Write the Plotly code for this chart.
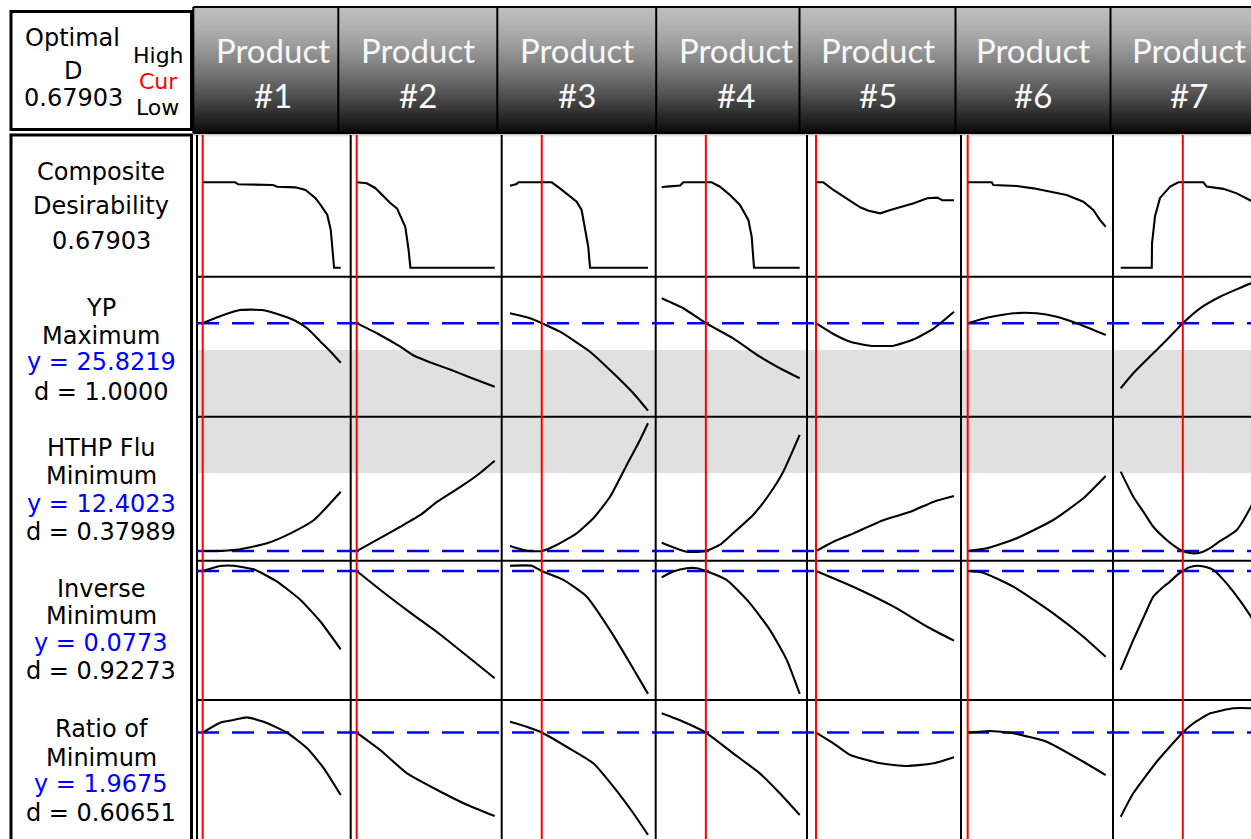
import plotly.graph_objects as go

W, H = 1251, 839

# ---- factor columns -------------------------------------------------------
PRODUCTS = ["#1", "#2", "#3", "#4", "#5", "#6", "#7"]
# current (optimal) setting of each factor, as a fraction of its low..high range
CURRENT = [0.0, 0.0, 0.23, 0.32, 0.0, 0.0, 0.45]

# ---- responses ------------------------------------------------------------
OPTIMAL_D = 0.67903
RESPONSE_NAMES = ["YP", "HTHP Flu", "Inverse", "Ratio of"]
GOALS = ["Maximum", "Minimum", "Minimum", "Minimum"]
PREDICTED = [25.8219, 12.4023, 0.0773, 1.9675]
DESIRABILITY = [1.0000, 0.37989, 0.92273, 0.60651]
# unacceptable region: YP below its lower limit, HTHP above its upper limit
YP_LOWER = 22.6
HTHP_UPPER = 18.9

# ---- composite desirability traces (one per product) ----------------------
COMPOSITE_X = [
    [0, 0.236, 0.257, 0.51, 0.539, 0.672, 0.745, 0.818, 0.854, 0.903, 0.928, 0.94, 0.952, 1.0],
    [0, 0.073, 0.134, 0.195, 0.243, 0.292, 0.316, 0.352, 0.376, 0.389, 1.0],
    [0, 0.048, 0.06, 0.302, 0.362, 0.435, 0.483, 0.519, 0.543, 0.567, 0.58, 1.0],
    [0, 0.036, 0.133, 0.157, 0.362, 0.422, 0.495, 0.567, 0.628, 0.652, 0.669, 1.0],
    [0, 0.053, 0.126, 0.223, 0.32, 0.381, 0.466, 0.539, 0.612, 0.709, 0.806, 0.879, 0.915, 1.0],
    [0, 0.174, 0.186, 0.355, 0.476, 0.597, 0.717, 0.838, 0.91, 0.958, 1.0],
    [0, 0.225, 0.227, 0.249, 0.285, 0.358, 0.418, 0.599, 0.623, 0.744, 0.841, 0.945, 1.0],
]
COMPOSITE_Y = [
    [0.679, 0.679, 0.663, 0.658, 0.644, 0.639, 0.618, 0.552, 0.499, 0.419, 0.300, 0.167, 0.0, 0.0],
    [0.679, 0.671, 0.634, 0.565, 0.514, 0.472, 0.419, 0.326, 0.141, 0.0, 0.0],
    [0.652, 0.666, 0.679, 0.679, 0.631, 0.565, 0.525, 0.459, 0.326, 0.167, 0.0, 0.0],
    [0.639, 0.645, 0.653, 0.679, 0.679, 0.644, 0.578, 0.499, 0.380, 0.247, 0.0, 0.0],
    [0.679, 0.679, 0.618, 0.552, 0.480, 0.453, 0.432, 0.459, 0.480, 0.512, 0.552, 0.557, 0.536, 0.536],
    [0.679, 0.679, 0.658, 0.650, 0.631, 0.604, 0.578, 0.525, 0.459, 0.380, 0.326],
    [0.0, 0.0, 0.196, 0.411, 0.555, 0.645, 0.679, 0.679, 0.645, 0.627, 0.591, 0.538, 0.50],
]

# ---- YP ---------------------------------------------------------------------
YP_X = [
    [0, 0.15, 0.272, 0.43, 0.563, 0.66, 0.757, 0.854, 0.927, 1.0],
    [0, 0.146, 0.316, 0.42, 0.54, 0.686, 0.808, 1.0],
    [0, 0.145, 0.23, 0.362, 0.58, 0.749, 0.894, 1.0],
    [0, 0.157, 0.32, 0.518, 0.711, 0.88, 1.0],
    [0, 0.126, 0.248, 0.393, 0.563, 0.709, 0.854, 1.0],
    [0, 0.138, 0.331, 0.5, 0.645, 0.79, 1.0],
    [0, 0.091, 0.236, 0.333, 0.45, 0.575, 0.72, 0.944, 1.0],
]
YP_Y = [
    [25.8219, 26.80, 27.40, 27.40, 26.80, 26.20, 25.21, 23.60, 22.40, 21.08],
    [25.8219, 24.61, 23.00, 21.88, 21.08, 20.20, 19.40, 18.20],
    [27.01, 26.41, 25.8219, 24.80, 22.40, 19.81, 17.41, 15.32],
    [28.81, 27.61, 25.8219, 24.01, 21.80, 20.20, 19.21],
    [25.8219, 24.52, 23.60, 23.12, 23.12, 23.89, 25.21, 27.20],
    [25.8219, 26.48, 27.01, 27.01, 26.60, 25.81, 24.40],
    [18.01, 19.81, 22.21, 23.80, 25.8219, 27.61, 29.00, 30.61, 30.88],
]

# ---- HTHP Flu ---------------------------------------------------------------
HTHP_X = [
    [0, 0.14, 0.272, 0.466, 0.636, 0.806, 1.0],
    [0, 0.146, 0.316, 0.462, 0.584, 0.754, 0.876, 1.0],
    [0, 0.121, 0.23, 0.338, 0.483, 0.604, 0.725, 0.846, 0.942, 1.0],
    [0, 0.181, 0.32, 0.42, 0.517, 0.662, 0.785, 0.881, 1.0],
    [0, 0.126, 0.272, 0.49, 0.684, 0.854, 1.0],
    [0, 0.138, 0.355, 0.62, 0.838, 1.0],
    [0, 0.091, 0.17, 0.236, 0.333, 0.4, 0.45, 0.5, 0.551, 0.6, 0.65, 0.696, 0.841, 0.944, 1.0],
]
HTHP_Y = [
    [12.4023, 12.42, 12.55, 13.05, 13.88, 14.99, 17.35],
    [12.4023, 13.33, 14.43, 15.41, 16.52, 17.77, 18.74, 19.93],
    [12.82, 12.43, 12.4023, 12.91, 13.88, 15.13, 16.93, 19.58, 21.66, 23.05],
    [13.10, 12.35, 12.4023, 12.91, 13.88, 15.41, 17.22, 19.02, 22.08],
    [12.4023, 13.18, 13.88, 14.99, 15.68, 16.52, 16.99],
    [12.4023, 12.63, 13.47, 14.99, 16.80, 18.66],
    [19.02, 16.93, 15.58, 14.43, 13.33, 12.74, 12.4023, 12.24, 12.22, 12.37, 12.66, 13.05, 14.16, 16.10, 17.49],
]

# ---- Inverse ----------------------------------------------------------------
INV_X = [
    [0, 0.126, 0.223, 0.369, 0.539, 0.709, 0.854, 1.0],
    [0, 0.2, 0.4, 0.6, 0.8, 1.0],
    [0, 0.157, 0.23, 0.387, 0.556, 0.725, 0.87, 1.0],
    [0, 0.084, 0.181, 0.254, 0.32, 0.47, 0.64, 0.785, 0.906, 1.0],
    [0, 0.126, 0.32, 0.563, 0.806, 1.0],
    [0, 0.112, 0.33, 0.62, 0.838, 1.0],
    [0, 0.091, 0.17, 0.236, 0.3, 0.357, 0.41, 0.45, 0.5, 0.551, 0.61, 0.671, 0.74, 0.816, 0.944, 1.0],
]
INV_Y = [
    [0.0773, 0.0791, 0.0792, 0.0779, 0.0735, 0.0669, 0.0591, 0.0492],
    [0.0773, 0.0694, 0.0619, 0.0547, 0.0468, 0.0388],
    [0.0792, 0.0792, 0.0773, 0.0741, 0.0681, 0.0561, 0.0442, 0.0332],
    [0.0750, 0.0771, 0.0783, 0.0783, 0.0773, 0.0741, 0.0657, 0.0561, 0.0454, 0.0332],
    [0.0773, 0.0747, 0.0705, 0.0645, 0.0573, 0.0523],
    [0.0773, 0.0767, 0.0717, 0.0621, 0.0537, 0.0465],
    [0.0418, 0.0525, 0.0611, 0.0681, 0.0712, 0.0735, 0.0759, 0.0773, 0.0787, 0.0792,
     0.0788, 0.0777, 0.0744, 0.0699, 0.0609, 0.0561],
]

# ---- Ratio of ---------------------------------------------------------------
RATIO_X = [
    [0, 0.126, 0.223, 0.32, 0.442, 0.612, 0.757, 0.878, 1.0],
    [0, 0.17, 0.365, 0.608, 0.803, 1.0],
    [0, 0.121, 0.23, 0.41, 0.604, 0.749, 0.894, 1.0],
    [0, 0.157, 0.32, 0.518, 0.711, 0.856, 1.0],
    [0, 0.126, 0.248, 0.466, 0.66, 0.854, 1.0],
    [0, 0.162, 0.33, 0.572, 0.838, 1.0],
    [0, 0.091, 0.261, 0.45, 0.527, 0.649, 0.818, 0.944, 1.0],
]
RATIO_Y = [
    [1.9675, 2.038, 2.057, 2.076, 2.045, 1.966, 1.855, 1.712, 1.521],
    [1.9675, 1.843, 1.676, 1.545, 1.450, 1.371],
    [2.045, 2.009, 1.9675, 1.866, 1.748, 1.581, 1.391, 1.236],
    [2.105, 2.045, 1.9675, 1.819, 1.676, 1.534, 1.379],
    [1.9675, 1.891, 1.807, 1.748, 1.729, 1.748, 1.791],
    [1.9675, 1.979, 1.962, 1.902, 1.759, 1.664],
    [1.366, 1.534, 1.759, 1.9675, 2.034, 2.105, 2.141, 2.141, 2.136],
]

ROWS = [
    (COMPOSITE_X, COMPOSITE_Y, "linear"),
    (YP_X, YP_Y, "spline"),
    (HTHP_X, HTHP_Y, "spline"),
    (INV_X, INV_Y, "spline"),
    (RATIO_X, RATIO_Y, "spline"),
]

# ---- page geometry (pixels) -------------------------------------------------
COL_EDGES = [197, 350.7, 501.7, 655.7, 807, 961, 1113, W]
COL_ORIGIN = [202.7, 356.7, 510, 661.7, 816, 967.7, 1120.7]   # pixel of factor low
COL_SPAN = 138.0                                              # pixels from low to high
ROW_EDGES = [135, 276.7, 416.7, 560.7, 700, H]
ROW_RANGES = [[-0.0716, 1.0551], [14.6, 31.4], [11.6, 23.6], [0.031, 0.081], [1.2071, 2.2]]
HEADER_TOP, HEADER_BOT = 7, 133
HEADER_EDGES = [193.3, 338.3, 497.3, 656.2, 799.5, 955.5, 1110.5]
HEADER_CENTERS = [273, 417.5, 576.7, 735.7, 878, 1033, 1188.5]


def px(x):
    return x / W


def py(y):
    return 1 - y / H


def ax_name(kind, n):
    return kind if n == 1 else f"{kind}{n}"


fig = go.Figure()
layout_axes = {}

for r, (xs, ys, shape) in enumerate(ROWS):
    for c in range(7):
        n = r * 7 + c + 1
        x0p, x1p = COL_EDGES[c], COL_EDGES[c + 1]
        xr = [(x0p - COL_ORIGIN[c]) / COL_SPAN, (x1p - COL_ORIGIN[c]) / COL_SPAN]
        layout_axes[ax_name("xaxis", n)] = dict(
            domain=[px(x0p), px(x1p)], range=xr, visible=False,
            anchor=ax_name("y", n), fixedrange=True)
        layout_axes[ax_name("yaxis", n)] = dict(
            domain=[py(ROW_EDGES[r + 1]), py(ROW_EDGES[r])], range=ROW_RANGES[r],
            visible=False, anchor=ax_name("x", n), fixedrange=True)
        line = dict(color="black", width=2.1, shape=shape)
        if shape == "spline":
            line["smoothing"] = 0.5
        fig.add_trace(go.Scatter(
            x=xs[c], y=ys[c], mode="lines", line=line,
            xaxis=ax_name("x", n), yaxis=ax_name("y", n),
            hoverinfo="skip", showlegend=False))

shapes = []

# header: vertical grey-to-black gradient built from thin bands
n_bands = 63
band_h = (HEADER_BOT - HEADER_TOP) / n_bands
for i in range(n_bands):
    t = (i + 0.5) / n_bands
    g = int(round(8 + 182 * (1 - t ** 1.4)))
    y0 = HEADER_TOP + i * band_h
    shapes.append(dict(type="rect", xref="paper", yref="paper", layer="below",
                       x0=px(HEADER_EDGES[0]), x1=1, y0=py(y0 + band_h + 0.3), y1=py(y0),
                       fillcolor=f"rgb({g},{g},{g})", line=dict(width=0)))
# soft shadow under the header
for i, a in enumerate([0.35, 0.22, 0.12, 0.05]):
    shapes.append(dict(type="rect", xref="paper", yref="paper", layer="below",
                       x0=px(HEADER_EDGES[0]), x1=1, y0=py(HEADER_BOT + i + 1), y1=py(HEADER_BOT + i),
                       fillcolor=f"rgba(0,0,0,{a})", line=dict(width=0)))
for xe in HEADER_EDGES:
    shapes.append(dict(type="line", xref="paper", yref="paper", layer="below",
                       x0=px(xe), x1=px(xe), y0=py(HEADER_TOP), y1=py(HEADER_BOT),
                       line=dict(color="black", width=2)))
for ye in (HEADER_TOP, HEADER_BOT):
    shapes.append(dict(type="line", xref="paper", yref="paper", layer="below",
                       x0=px(HEADER_EDGES[0]), x1=1, y0=py(ye), y1=py(ye),
                       line=dict(color="black", width=2)))

# unacceptable response regions
yp_axis = ax_name("y", 1 * 7 + 1)
hthp_axis = ax_name("y", 2 * 7 + 1)
shapes.append(dict(type="rect", xref="paper", yref=yp_axis, layer="below",
                   x0=px(COL_EDGES[0]), x1=1, y0=ROW_RANGES[1][0], y1=YP_LOWER,
                   fillcolor="#e0e0e0", line=dict(width=0)))
shapes.append(dict(type="rect", xref="paper", yref=hthp_axis, layer="below",
                   x0=px(COL_EDGES[0]), x1=1, y0=HTHP_UPPER, y1=ROW_RANGES[2][1],
                   fillcolor="#e0e0e0", line=dict(width=0)))

# cell grid
for xe in COL_EDGES[:-1]:
    shapes.append(dict(type="line", xref="paper", yref="paper", layer="below",
                       x0=px(xe), x1=px(xe), y0=0, y1=py(ROW_EDGES[0]),
                       line=dict(color="black", width=2)))
for ye in ROW_EDGES[1:-1]:
    shapes.append(dict(type="line", xref="paper", yref="paper", layer="below",
                       x0=px(COL_EDGES[0]), x1=1, y0=py(ye), y1=py(ye),
                       line=dict(color="black", width=2)))

# predicted response at the optimum
for r, val in enumerate(PREDICTED, start=1):
    shapes.append(dict(type="line", xref="paper", yref=ax_name("y", r * 7 + 1), layer="below",
                       x0=px(COL_EDGES[0]), x1=1, y0=val, y1=val,
                       line=dict(color="#0000ff", width=2.6, dash="22px,13px")))

# current factor settings
for c, cur in enumerate(CURRENT):
    shapes.append(dict(type="line", xref=ax_name("x", c + 1), yref="paper", layer="above",
                       x0=cur, x1=cur, y0=0, y1=py(ROW_EDGES[0]),
                       line=dict(color="#ff0000", width=2)))

# left-hand label boxes
shapes.append(dict(type="rect", xref="paper", yref="paper", layer="above",
                   x0=px(11), x1=px(191.5), y0=py(129.5), y1=py(11.5),
                   line=dict(color="black", width=3), fillcolor="rgba(0,0,0,0)"))
shapes.append(dict(type="rect", xref="paper", yref="paper", layer="above",
                   x0=px(11), x1=px(191.5), y0=py(H + 20), y1=py(135),
                   line=dict(color="black", width=3), fillcolor="rgba(0,0,0,0)"))

annotations = []


def label(text, x, y, color="black", size=24, family="DejaVu Sans"):
    annotations.append(dict(text=text, x=px(x), y=py(y), xref="paper", yref="paper",
                            xanchor="center", yanchor="middle", showarrow=False,
                            font=dict(family=family, size=size, color=color)))


# header texts
for c, name in enumerate(PRODUCTS):
    label("Product", HEADER_CENTERS[c], 50, color="#f8f8f8", size=33, family="Lato")
    label(name, HEADER_CENTERS[c], 95, color="#f8f8f8", size=33, family="Lato")

# optimum summary
label("Optimal", 72.5, 37.5)
label("D", 72.5, 71)
label(f"{OPTIMAL_D:.5f}", 73.3, 98.5)
label("High", 158.3, 55, size=22)
label("Cur", 158.3, 81, color="#ff0000", size=22)
label("Low", 157.5, 107, size=22)

# composite row
label("Composite", 101, 172)
label("Desirability", 101, 206)
label(f"{OPTIMAL_D:.5f}", 101, 241)

# response rows
BLOCK_Y = [[307.5, 335.8, 362.5, 391.7],
           [447.5, 475.8, 504, 531.7],
           [589.2, 616, 642.5, 671],
           [729.2, 757.5, 784, 812.5]]


def fmt_d(v):
    return f"{v:.4f}" if v >= 1 else f"{v:.5f}"


for i in range(4):
    ys = BLOCK_Y[i]
    label(RESPONSE_NAMES[i], 101, ys[0])
    label(GOALS[i], 101, ys[1])
    label(f"y = {PREDICTED[i]:.4f}", 101, ys[2], color="#0000ff")
    label(f"d = {fmt_d(DESIRABILITY[i])}", 101, ys[3])

fig.update_layout(
    width=W, height=H, autosize=False,
    margin=dict(l=0, r=0, t=0, b=0),
    paper_bgcolor="white", plot_bgcolor="rgba(0,0,0,0)",
    shapes=shapes, annotations=annotations,
    **layout_axes,
)

fig.write_html("out.html")
